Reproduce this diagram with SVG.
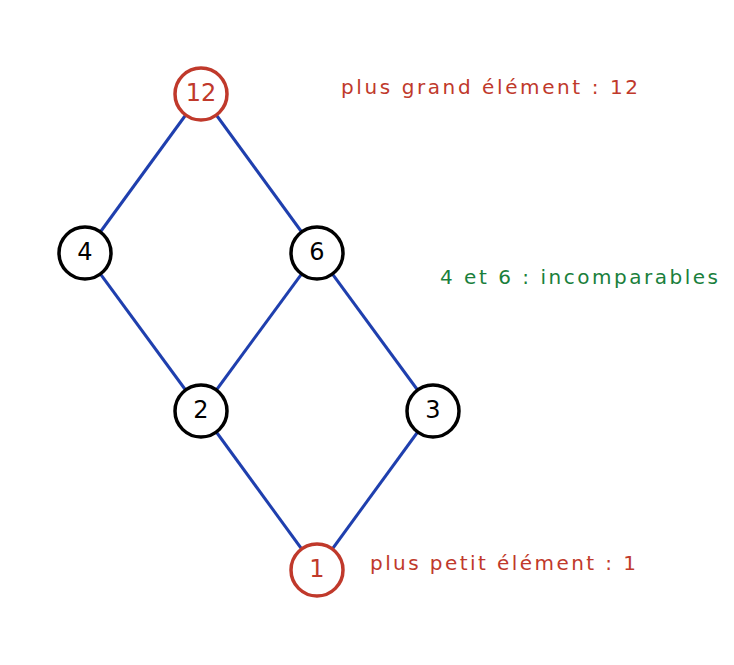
<svg xmlns="http://www.w3.org/2000/svg" width="734" height="665" viewBox="0 0 734 665">
<style>
.e{stroke:#1f3fae;stroke-width:3;fill:none}
.n{fill:#fff;stroke:#000;stroke-width:3.5}
.r{fill:#fff;stroke:#c0392b;stroke-width:3.5}
.t{font-family:"DejaVu Sans",sans-serif;font-size:24px;text-anchor:middle;dominant-baseline:central}
.l{font-family:"DejaVu Sans",sans-serif;font-size:20px}
</style>
<rect width="734" height="665" fill="#fff"/>
<g id="connectors">
<line class="e" x1="201" y1="94" x2="85" y2="253"/>
<line class="e" x1="201" y1="94" x2="317" y2="253"/>
<line class="e" x1="85" y1="253" x2="201" y2="411"/>
<line class="e" x1="317" y1="253" x2="201" y2="411"/>
<line class="e" x1="317" y1="253" x2="433" y2="411"/>
<line class="e" x1="201" y1="411" x2="317" y2="570"/>
<line class="e" x1="433" y1="411" x2="317" y2="570"/>
</g>
<g id="n12"><circle class="r" cx="201" cy="94" r="26"/><text class="t" x="201" y="93" fill="#c0392b">12</text></g>
<g id="n4"><circle class="n" cx="85" cy="253" r="26"/><text class="t" x="85" y="252">4</text></g>
<g id="n6"><circle class="n" cx="317" cy="253" r="26"/><text class="t" x="317" y="252">6</text></g>
<g id="n2"><circle class="n" cx="201" cy="411" r="26"/><text class="t" x="201" y="410">2</text></g>
<g id="n3"><circle class="n" cx="433" cy="411" r="26"/><text class="t" x="433" y="410">3</text></g>
<g id="n1"><circle class="r" cx="317" cy="570" r="26"/><text class="t" x="317" y="569" fill="#c0392b">1</text></g>
<text class="l" x="341" y="94" fill="#c0392b" textLength="297">plus grand élément : 12</text>
<text class="l" x="440" y="284" fill="#1a7f3c" textLength="278">4 et 6 : incomparables</text>
<text class="l" x="370" y="570" fill="#c0392b" textLength="266">plus petit élément : 1</text>
</svg>
